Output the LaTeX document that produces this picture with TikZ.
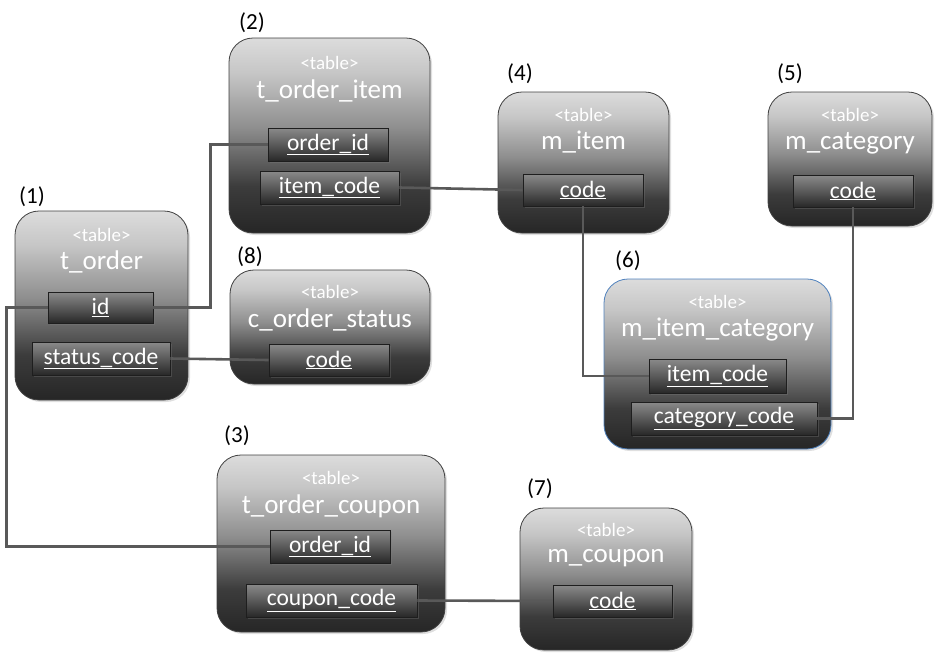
\documentclass[tikz,border=0pt]{standalone}
\usepackage{fontspec}
\setmainfont{Carlito}
\usetikzlibrary{shadows}
\definecolor{tA}{HTML}{262626}
\definecolor{tB}{HTML}{3C3C3C}
\definecolor{tC}{HTML}{8E8E8E}
\definecolor{tD}{HTML}{C6C6C6}
\definecolor{tE}{HTML}{DCDCDC}
\definecolor{fA}{HTML}{282828}
\definecolor{fB}{HTML}{505050}
\definecolor{fC}{HTML}{8A8A8A}
\definecolor{fD}{HTML}{1E1E1E}
\definecolor{lineC}{HTML}{595959}
\definecolor{edgeC}{HTML}{404040}
\definecolor{blueE}{HTML}{4F81BD}
\pgfdeclareverticalshading{tblshade}{100bp}{color(0bp)=(tA); color(25bp)=(tA); color(37bp)=(tB); color(52bp)=(tC); color(66bp)=(tD); color(75bp)=(tE); color(100bp)=(tE)}
\pgfdeclareverticalshading{fldshade}{100bp}{color(0bp)=(fA); color(25bp)=(fA); color(45bp)=(fB); color(75bp)=(fC); color(100bp)=(fC)}
\tikzset{
  tbl/.style={rectangle, rounded corners=24pt, draw=edgeC, line width=0.8pt, shading=tblshade, inner sep=0pt, drop shadow={shadow xshift=2pt, shadow yshift=-2pt, opacity=0.25}},
  fld/.style={rectangle, draw=fD, line width=0.8pt, shading=fldshade, inner sep=0pt, text=white, font=\fontsize{23.5}{26}\selectfont, drop shadow={shadow xshift=1.5pt, shadow yshift=-1.5pt, opacity=0.3}},
  tag/.style={text=white, font=\fontsize{19}{21}\selectfont, inner sep=0pt},
  ttl/.style={text=white, font=\fontsize{27}{30}\selectfont, inner sep=0pt},
  num/.style={text=black, font=\fontsize{23}{26}\selectfont, inner sep=0pt},
  conn/.style={draw=lineC, line width=2.6pt}
}
\begin{document}
\begin{tikzpicture}[x=1pt,y=-1pt]
\useasboundingbox (0,0) rectangle (945,657);
% outer tables
\node[tbl, minimum width=173pt, minimum height=189pt] (T1) at (101.5,305.5) {};
\node[tbl, minimum width=201pt, minimum height=195pt] (T2) at (329.5,135.5) {};
\node[tbl, minimum width=171pt, minimum height=141pt] (T4) at (583.5,162.5) {};
\node[tbl, minimum width=164pt, minimum height=134pt] (T5) at (850,159) {};
\node[tbl, minimum width=200pt, minimum height=114pt] (T8) at (330,327) {};
\node[tbl, draw=blueE, minimum width=227pt, minimum height=170pt] (T6) at (717.5,364) {};
\node[tbl, minimum width=228pt, minimum height=177pt] (T3) at (331,543.5) {};
\node[tbl, minimum width=172pt, minimum height=142pt] (T7) at (606,579) {};
% number labels
\node[num] (n1) at (32,197) {(1)};
\node[num] (n2) at (252,23) {(2)};
\node[num] (n4) at (520,74) {(4)};
\node[num] (n5) at (790,74) {(5)};
\node[num] (n8) at (250,257) {(8)};
\node[num] (n6) at (628,261) {(6)};
\node[num] (n3) at (237,436) {(3)};
\node[num] (n7) at (540,489) {(7)};
% tags and titles
\node[tag] (g1) at (101.5,235) {<table>};
\node[ttl] (h1) at (101.5,262) {t\_order};
\node[tag] (g2) at (329.5,63) {<table>};
\node[ttl] (h2) at (329.5,91) {t\_order\_item};
\node[tag] (g4) at (583.5,115) {<table>};
\node[ttl] (h4) at (583.5,142) {m\_item};
\node[tag] (g5) at (850,115) {<table>};
\node[ttl] (h5) at (850,143) {m\_category};
\node[tag] (g8) at (330,292) {<table>};
\node[ttl] (h8) at (330,320) {c\_order\_status};
\node[tag] (g6) at (717.5,302) {<table>};
\node[ttl] (h6) at (717.5,330) {m\_item\_category};
\node[tag] (g3) at (331,478) {<table>};
\node[ttl] (h3) at (331,506) {t\_order\_coupon};
\node[tag] (g7) at (606,530) {<table>};
\node[ttl] (h7) at (606,558) {m\_coupon};
% fields
\node[fld, minimum width=105pt, minimum height=31pt] (f1id) at (100.5,307.5) {\underline{id}};
\node[fld, minimum width=138pt, minimum height=33pt] (f1sc) at (101,358.5) {\underline{status\_code}};
\node[fld, minimum width=120pt, minimum height=33pt] (f2oid) at (328,144.5) {\underline{order\_id}};
\node[fld, minimum width=139pt, minimum height=33pt] (f2ic) at (329.5,187.5) {\underline{item\_code}};
\node[fld, minimum width=120pt, minimum height=32pt] (f4c) at (583,190) {\underline{code}};
\node[fld, minimum width=120pt, minimum height=32pt] (f5c) at (853,191) {\underline{code}};
\node[fld, minimum width=120pt, minimum height=32pt] (f8c) at (329,360) {\underline{code}};
\node[fld, minimum width=137pt, minimum height=34pt] (f6ic) at (717.5,376) {\underline{item\_code}};
\node[fld, minimum width=186pt, minimum height=33pt] (f6cc) at (724,418.5) {\underline{category\_code}};
\node[fld, minimum width=120pt, minimum height=33pt] (f3oid) at (330,546.5) {\underline{order\_id}};
\node[fld, minimum width=171pt, minimum height=33pt] (f3cc) at (331.5,600.5) {\underline{coupon\_code}};
\node[fld, minimum width=119pt, minimum height=32pt] (f7c) at (612.5,601) {\underline{code}};
% connectors
\draw[conn] (f1id.west) -- ++(-41,0) |- (f3oid.west);
\draw[conn] (f1id.east) -- ++(57,0) |- (f2oid.west);
\draw[conn] (f1sc.east) -- (f8c.west);
\draw[conn] (f2ic.east) -- (f4c.west);
\draw[conn] (f4c.south) |- (f6ic.west);
\draw[conn] (f6cc.east) -| (f5c.south);
\draw[conn] (f3cc.east) -- (f7c.west);
\end{tikzpicture}
\end{document}
